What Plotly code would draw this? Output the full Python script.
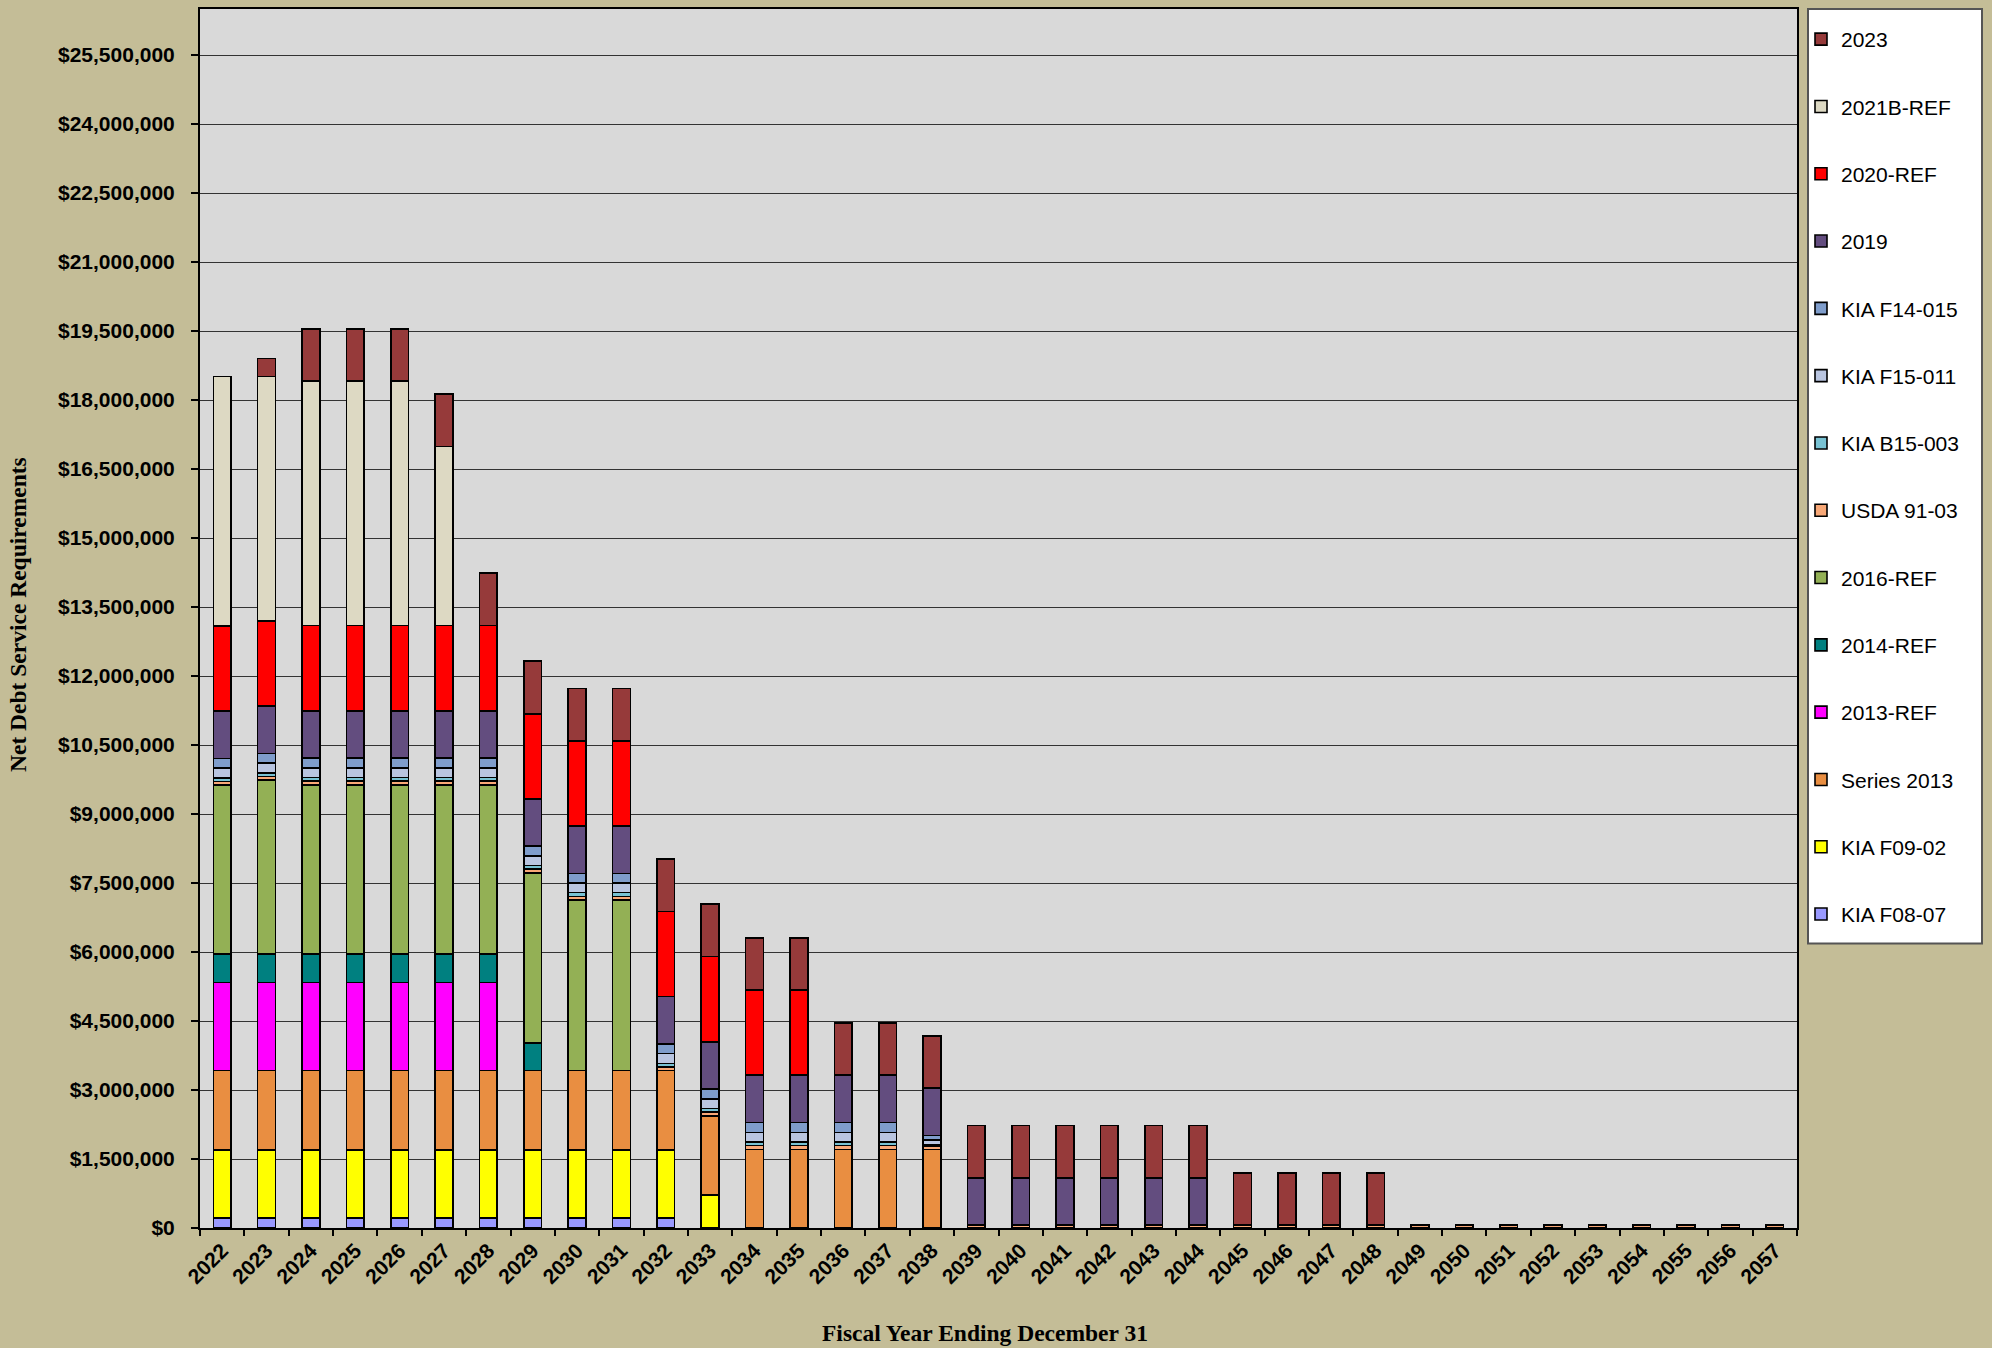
import plotly.graph_objects as go

years = ["2022", "2023", "2024", "2025", "2026", "2027", "2028", "2029", "2030", "2031",
         "2032", "2033", "2034", "2035", "2036", "2037", "2038", "2039", "2040", "2041",
         "2042", "2043", "2044", "2045", "2046", "2047", "2048", "2049", "2050", "2051",
         "2052", "2053", "2054", "2055", "2056", "2057"]

# values in millions of dollars (stack order bottom -> top)
kia_f08_07 = [0.22, 0.22, 0.22, 0.22, 0.22, 0.22, 0.22, 0.22, 0.22, 0.22,
              0.22, 0, 0, 0, 0, 0, 0, 0, 0, 0,
              0, 0, 0, 0, 0, 0, 0, 0, 0, 0,
              0, 0, 0, 0, 0, 0]
kia_f09_02 = [1.48, 1.48, 1.48, 1.48, 1.48, 1.48, 1.48, 1.48, 1.48, 1.48,
              1.48, 0.72, 0, 0, 0, 0, 0, 0, 0, 0,
              0, 0, 0, 0, 0, 0, 0, 0, 0, 0,
              0, 0, 0, 0, 0, 0]
series_2013 = [1.72, 1.72, 1.72, 1.72, 1.72, 1.72, 1.72, 1.72, 1.72, 1.72,
               1.72, 1.72, 1.71, 1.71, 1.71, 1.71, 1.71, 0, 0, 0,
               0, 0, 0, 0, 0, 0, 0, 0, 0, 0,
               0, 0, 0, 0, 0, 0]
ref_2013 = [1.92, 1.92, 1.92, 1.92, 1.92, 1.92, 1.92, 0, 0, 0,
            0, 0, 0, 0, 0, 0, 0, 0, 0, 0,
            0, 0, 0, 0, 0, 0, 0, 0, 0, 0,
            0, 0, 0, 0, 0, 0]
ref_2014 = [0.615, 0.615, 0.615, 0.615, 0.615, 0.615, 0.615, 0.60, 0, 0,
            0, 0, 0, 0, 0, 0, 0, 0, 0, 0,
            0, 0, 0, 0, 0, 0, 0, 0, 0, 0,
            0, 0, 0, 0, 0, 0]
ref_2016 = [3.67, 3.78, 3.68, 3.68, 3.68, 3.68, 3.68, 3.70, 3.71, 3.71,
            0, 0, 0, 0, 0, 0, 0, 0, 0, 0,
            0, 0, 0, 0, 0, 0, 0, 0, 0, 0,
            0, 0, 0, 0, 0, 0]
usda_91_03 = [0.08, 0.08, 0.08, 0.08, 0.08, 0.08, 0.08, 0.08, 0.08, 0.08,
              0.08, 0.08, 0.08, 0.08, 0.08, 0.08, 0.06, 0.06, 0.06, 0.06,
              0.06, 0.06, 0.06, 0.06, 0.06, 0.06, 0.06, 0.06, 0.06, 0.06,
              0.06, 0.06, 0.06, 0.06, 0.06, 0.06]
kia_b15_003 = [0.08, 0.08, 0.08, 0.08, 0.08, 0.08, 0.08, 0.08, 0.08, 0.08,
               0.08, 0.08, 0.08, 0.08, 0.08, 0.08, 0.03, 0, 0, 0,
               0, 0, 0, 0, 0, 0, 0, 0, 0, 0,
               0, 0, 0, 0, 0, 0]
kia_f15_011 = [0.21, 0.21, 0.21, 0.21, 0.21, 0.21, 0.21, 0.21, 0.21, 0.21,
               0.21, 0.21, 0.21, 0.21, 0.21, 0.21, 0.11, 0, 0, 0,
               0, 0, 0, 0, 0, 0, 0, 0, 0, 0,
               0, 0, 0, 0, 0, 0]
kia_f14_015 = [0.21, 0.21, 0.21, 0.21, 0.21, 0.21, 0.21, 0.21, 0.21, 0.21,
               0.21, 0.21, 0.21, 0.21, 0.21, 0.21, 0.10, 0, 0, 0,
               0, 0, 0, 0, 0, 0, 0, 0, 0, 0,
               0, 0, 0, 0, 0, 0]
s_2019 = [1.03, 1.03, 1.03, 1.03, 1.03, 1.03, 1.03, 1.03, 1.03, 1.03,
          1.03, 1.03, 1.03, 1.03, 1.03, 1.03, 1.03, 1.03, 1.03, 1.03,
          1.03, 1.03, 1.03, 0, 0, 0, 0, 0, 0, 0,
          0, 0, 0, 0, 0, 0]
ref_2020 = [1.85, 1.85, 1.85, 1.85, 1.85, 1.85, 1.85, 1.85, 1.85, 1.85,
            1.85, 1.85, 1.85, 1.85, 0, 0, 0, 0, 0, 0,
            0, 0, 0, 0, 0, 0, 0, 0, 0, 0,
            0, 0, 0, 0, 0, 0]
ref_2021b = [5.43, 5.32, 5.32, 5.32, 5.32, 3.89, 0, 0, 0, 0,
             0, 0, 0, 0, 0, 0, 0, 0, 0, 0,
             0, 0, 0, 0, 0, 0, 0, 0, 0, 0,
             0, 0, 0, 0, 0, 0]
s_2023 = [0, 0.39, 1.13, 1.13, 1.13, 1.14, 1.14, 1.14, 1.14, 1.14,
          1.14, 1.14, 1.14, 1.14, 1.14, 1.14, 1.14, 1.14, 1.14, 1.14,
          1.14, 1.14, 1.14, 1.13, 1.13, 1.13, 1.13, 0, 0, 0,
          0, 0, 0, 0, 0, 0]

series = [
    ("KIA F08-07", kia_f08_07, "#9999FF"),
    ("KIA F09-02", kia_f09_02, "#FFFF00"),
    ("Series 2013", series_2013, "#E98E41"),
    ("2013-REF", ref_2013, "#FF00FF"),
    ("2014-REF", ref_2014, "#008080"),
    ("2016-REF", ref_2016, "#93B055"),
    ("USDA 91-03", usda_91_03, "#F8A877"),
    ("KIA B15-003", kia_b15_003, "#78C2D3"),
    ("KIA F15-011", kia_f15_011, "#B9C5E0"),
    ("KIA F14-015", kia_f14_015, "#7F9DCB"),
    ("2019", s_2019, "#634D7F"),
    ("2020-REF", ref_2020, "#FF0000"),
    ("2021B-REF", ref_2021b, "#DDD9C3"),
    ("2023", s_2023, "#963A3A"),
]

fig = go.Figure()
n = len(series)
for i, (name, vals, color) in enumerate(series):
    yv = [v * 1_000_000 if v else None for v in vals]
    fig.add_trace(go.Bar(
        x=years, y=yv, name=name, legendgroup=name, legendrank=n - i,
        marker=dict(color=color, line=dict(color="#000000", width=1.6)),
    ))

W, H = 1992, 1348
L, R, T, B = 200, 195, 7, 120
pw = W - L - R
ph = H - T - B


def px_x(x):
    return (x - L) / pw


def px_y(y):
    return (H - B - y) / ph


fig.update_layout(
    width=W, height=H,
    margin=dict(l=L, r=R, t=T, b=B, pad=0),
    barmode="stack",
    bargap=0.6,
    paper_bgcolor="#C4BD97",
    plot_bgcolor="#D9D9D9",
    font=dict(family="Liberation Sans, Arial, sans-serif", color="#000000"),
    showlegend=True,
    legend=dict(
        x=px_x(1801), y=px_y(17), xanchor="left", yanchor="top",
        traceorder="grouped",
        tracegroupgap=37,
        bgcolor="rgba(0,0,0,0)", borderwidth=0,
        font=dict(size=21, family="Liberation Sans, Arial, sans-serif"),
    ),
    shapes=[dict(
        type="rect", xref="paper", yref="paper",
        x0=px_x(1808), x1=px_x(1982), y0=px_y(943), y1=px_y(7),
        fillcolor="#FFFFFF", line=dict(color="#555555", width=2), layer="below",
    )],
    annotations=[
        dict(text="<b>Net Debt Service Requirements</b>", xref="paper", yref="paper",
             x=px_x(18), y=px_y(614), textangle=-90, showarrow=False,
             xanchor="center", yanchor="middle",
             font=dict(family="Liberation Serif, Times New Roman, serif", size=23.5)),
        dict(text="<b>Fiscal Year Ending December 31</b>", xref="paper", yref="paper",
             x=px_x(985), y=px_y(1333), showarrow=False,
             xanchor="center", yanchor="middle",
             font=dict(family="Liberation Serif, Times New Roman, serif", size=23.5)),
    ],
)

fig.update_xaxes(
    type="category",
    tickangle=-45,
    tickfont=dict(size=21, weight="bold"),
    ticks="outside", ticklen=6, tickwidth=1.5, tickcolor="#000000",
    tickson="boundaries",
    showline=True, linecolor="#000000", linewidth=2, mirror=True,
    showgrid=False,
)
fig.update_yaxes(
    range=[0, 26_500_000],
    tick0=0, dtick=1_500_000,
    tickprefix="$", tickformat=",",
    tickfont=dict(size=21, weight="bold"),
    ticks="outside", ticklen=7, tickwidth=1.5, tickcolor="#000000",
    ticklabelstandoff=12,
    showline=True, linecolor="#000000", linewidth=2, mirror=True,
    showgrid=True, gridcolor="#333333", gridwidth=1.3,
    zeroline=False,
)

fig.write_html("out.html", config={"displayModeBar": False},
               post_script="document.body.style.margin='0px';")
